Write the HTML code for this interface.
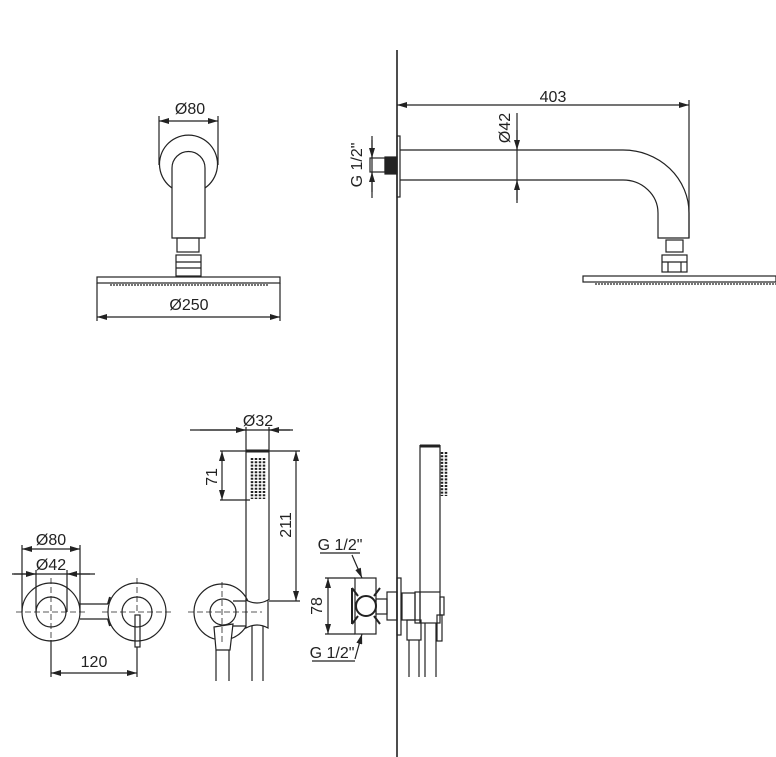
<!DOCTYPE html>
<html><head><meta charset="utf-8"><style>
html,body{margin:0;padding:0;background:#fff;}
svg{display:block;}
text{font-family:"Liberation Sans Narrow","Liberation Sans",sans-serif;font-size:16px;fill:#222;}
</style></head><body>
<svg width="776" height="757" viewBox="0 0 776 757" xmlns="http://www.w3.org/2000/svg">
<defs>
<marker id="a" viewBox="0 0 10 6" refX="10" refY="3" markerWidth="10" markerHeight="6" orient="auto-start-reverse" markerUnits="userSpaceOnUse"><path d="M0,0 L10,3 L0,6 z" fill="#222"/></marker>
</defs>
<g stroke="#222" stroke-width="1.2" fill="none">
<line x1="397" y1="50" x2="397" y2="757" stroke-width="1.6"/>

<line x1="159" y1="116" x2="159" y2="165"/><line x1="218" y1="116" x2="218" y2="165"/>
<line x1="159" y1="121" x2="218" y2="121" marker-start="url(#a)" marker-end="url(#a)"/>
<path d="M172,188 A29,29 0 1 1 205,188"/>
<path d="M172,238 L172,168 A16.5,16.5 0 0 1 205,168 L205,238 Z"/>
<rect x="177" y="238" width="22" height="14"/>
<rect x="176" y="255" width="25" height="21"/>
<line x1="176" y1="262" x2="201" y2="262"/><line x1="176" y1="268" x2="201" y2="268"/>
<rect x="97" y="277" width="183" height="6"/>
<line x1="110" y1="285" x2="268" y2="285" stroke-dasharray="2,1"/>
<line x1="97" y1="283" x2="97" y2="321"/><line x1="280" y1="283" x2="280" y2="321"/>
<line x1="97" y1="317" x2="280" y2="317" marker-start="url(#a)" marker-end="url(#a)"/>

<line x1="397" y1="105" x2="689" y2="105" marker-start="url(#a)" marker-end="url(#a)"/>
<line x1="689" y1="100" x2="689" y2="238"/>
<rect x="397" y="136" width="3" height="61"/>
<rect x="385" y="157" width="12" height="17" fill="#222"/>
<rect x="370" y="158" width="15" height="14"/>
<line x1="372" y1="136" x2="372" y2="198"/>
<line x1="372" y1="140" x2="372" y2="158" marker-end="url(#a)"/>
<line x1="372" y1="192" x2="372" y2="172" marker-end="url(#a)"/>
<path d="M400,150 L623,150 A66,63 0 0 1 689,213 L689,238 L658,238 L658,213 A35,33 0 0 0 623,180 L400,180"/>
<line x1="517" y1="113" x2="517" y2="203"/>
<line x1="517" y1="130" x2="517" y2="150" marker-end="url(#a)"/>
<line x1="517" y1="200" x2="517" y2="180" marker-end="url(#a)"/>
<rect x="666" y="240" width="17" height="12"/>
<rect x="662" y="255" width="25" height="17"/>
<line x1="662" y1="262" x2="687" y2="262"/><line x1="668" y1="262" x2="668" y2="272"/><line x1="681" y1="262" x2="681" y2="272"/>
<rect x="583" y="276" width="193" height="6"/>
<line x1="595" y1="284" x2="776" y2="284" stroke-dasharray="2,1"/>

<line x1="22" y1="545" x2="22" y2="612"/><line x1="80" y1="545" x2="80" y2="612"/>
<line x1="22" y1="549" x2="80" y2="549" marker-start="url(#a)" marker-end="url(#a)"/>
<line x1="36" y1="570" x2="36" y2="612"/><line x1="67" y1="570" x2="67" y2="612"/>
<line x1="12" y1="574" x2="95" y2="574"/>
<line x1="14" y1="574" x2="36" y2="574" marker-end="url(#a)"/>
<line x1="90" y1="574" x2="67" y2="574" marker-end="url(#a)"/>
<circle cx="51" cy="612" r="29"/><circle cx="51" cy="612" r="15"/>
<circle cx="137" cy="612" r="29"/><circle cx="137" cy="612" r="15"/>
<line x1="80" y1="604" x2="108" y2="604"/><line x1="80" y1="619" x2="108" y2="619"/>
<path d="M110,597 L108,604 M108,619 L110,626" stroke-width="2"/>
<rect x="135" y="615" width="5" height="32"/>
<g stroke-dasharray="6,3" stroke-width="0.8">
<line x1="16" y1="612" x2="86" y2="612"/><line x1="102" y1="612" x2="172" y2="612"/>
<line x1="51" y1="578" x2="51" y2="640"/><line x1="137" y1="578" x2="137" y2="612"/>
</g>
<line x1="51" y1="640" x2="51" y2="677"/><line x1="137" y1="647" x2="137" y2="677"/>
<line x1="51" y1="673" x2="137" y2="673" marker-start="url(#a)" marker-end="url(#a)"/>

<line x1="190" y1="430" x2="293" y2="430"/>
<line x1="200" y1="430" x2="246" y2="430" marker-end="url(#a)"/>
<line x1="290" y1="430" x2="269" y2="430" marker-end="url(#a)"/>
<line x1="246" y1="427" x2="246" y2="600"/><line x1="269" y1="427" x2="269" y2="600"/>
<line x1="246" y1="451" x2="269" y2="451" stroke-width="3"/>
<line x1="220" y1="451" x2="246" y2="451"/><line x1="220" y1="500" x2="250" y2="500"/>
<line x1="222" y1="451" x2="222" y2="500" marker-start="url(#a)" marker-end="url(#a)"/>
<line x1="269" y1="451" x2="300" y2="451"/><line x1="269" y1="601" x2="300" y2="601"/>
<line x1="296" y1="451" x2="296" y2="601" marker-start="url(#a)" marker-end="url(#a)"/>
<g stroke-width="2.5" stroke-dasharray="2,1.3">
<line x1="252" y1="458" x2="252" y2="499"/><line x1="256" y1="458" x2="256" y2="499"/>
<line x1="260" y1="458" x2="260" y2="499"/><line x1="264" y1="458" x2="264" y2="499"/>
</g>
<circle cx="222" cy="612" r="28"/>
<circle cx="223" cy="612" r="13" fill="#fff"/>
<path d="M233,601 L246,601 M233,626 L246,626"/>
<path d="M246,600 Q257,606 268,600 L268,628 Q257,622 246,628 Z" fill="#fff"/>
<path d="M214,627 L233,624 L230,650 L216,650 Z" fill="#fff"/>
<line x1="216" y1="650" x2="216" y2="681"/><line x1="229" y1="650" x2="229" y2="681"/>
<line x1="252" y1="626" x2="252" y2="681"/><line x1="263" y1="626" x2="263" y2="681"/>
<g stroke-dasharray="6,3" stroke-width="0.8">
<line x1="188" y1="612" x2="262" y2="612"/><line x1="222" y1="582" x2="222" y2="642"/>
</g>

<line x1="320" y1="553" x2="360" y2="553"/>
<line x1="352" y1="555" x2="362" y2="578" marker-end="url(#a)"/>
<line x1="312" y1="661" x2="355" y2="661"/>
<line x1="355" y1="659" x2="362" y2="634" marker-end="url(#a)"/>
<rect x="355" y="578" width="21" height="56"/>
<line x1="325" y1="578" x2="355" y2="578"/><line x1="325" y1="634" x2="355" y2="634"/>
<line x1="328" y1="578" x2="328" y2="634" marker-start="url(#a)" marker-end="url(#a)"/>
<path d="M352,588 L358,596 M352,624 L358,616 M380,588 L374,596 M380,624 L374,616" stroke-width="2"/>
<line x1="352" y1="588" x2="352" y2="624" stroke-width="2"/>
<circle cx="366" cy="606" r="10" stroke-width="2" fill="#fff"/>
<rect x="376" y="599" width="11" height="15"/>
<rect x="387" y="592" width="10" height="28"/>
<rect x="397" y="578" width="4" height="57"/>
<rect x="402" y="593" width="13" height="27"/>
<rect x="415" y="592" width="5" height="31"/>
<rect x="420" y="592" width="20" height="31"/>
<rect x="440" y="597" width="4" height="18"/>
<rect x="437" y="615" width="5" height="26"/>
<rect x="407" y="620" width="14" height="20"/>
<line x1="420" y1="445" x2="420" y2="592"/><line x1="440" y1="445" x2="440" y2="592"/>
<line x1="420" y1="446" x2="440" y2="446" stroke-width="3"/>
<g stroke-width="2.5" stroke-dasharray="2,1.3"><line x1="442" y1="452" x2="442" y2="496"/><line x1="446" y1="452" x2="446" y2="496"/></g>
<line x1="409" y1="640" x2="409" y2="677"/><line x1="419" y1="640" x2="419" y2="677"/>
<line x1="425" y1="623" x2="425" y2="677"/><line x1="436" y1="623" x2="436" y2="677"/>
</g>

<g>
<text x="190" y="114" text-anchor="middle">Ø80</text>
<text x="189" y="310" text-anchor="middle">Ø250</text>
<text x="553" y="102" text-anchor="middle">403</text>
<text transform="translate(362,165) rotate(-90)" text-anchor="middle">G 1/2"</text>
<text transform="translate(510,128) rotate(-90)" text-anchor="middle">Ø42</text>
<text x="51" y="545" text-anchor="middle">Ø80</text>
<text x="51" y="570" text-anchor="middle">Ø42</text>
<text x="94" y="667" text-anchor="middle">120</text>
<text x="258" y="426" text-anchor="middle">Ø32</text>
<text transform="translate(217,477) rotate(-90)" text-anchor="middle">71</text>
<text transform="translate(291,525) rotate(-90)" text-anchor="middle">211</text>
<text x="340" y="550" text-anchor="middle">G 1/2"</text>
<text transform="translate(322,606) rotate(-90)" text-anchor="middle">78</text>
<text x="332" y="658" text-anchor="middle">G 1/2"</text>
</g>
</svg>
</body></html>
